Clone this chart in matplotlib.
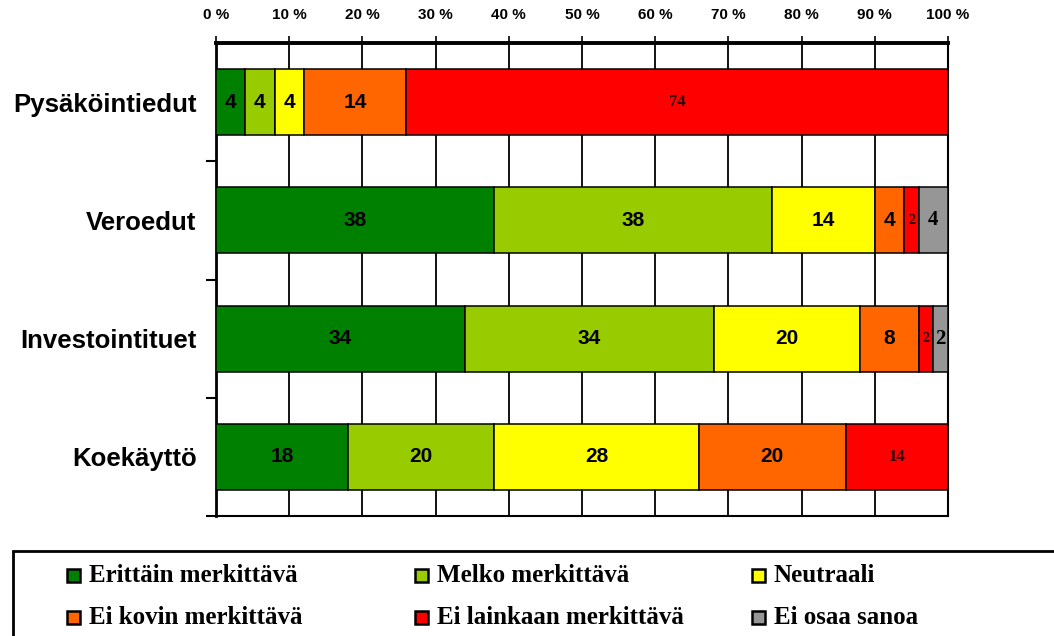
import matplotlib.pyplot as plt
import numpy as np
from matplotlib.patches import Rectangle
from matplotlib.ticker import FixedLocator

categories = ['Pysäköintiedut', 'Veroedut', 'Investointituet', 'Koekäyttö']
series = ['Erittäin merkittävä', 'Melko merkittävä', 'Neutraali',
          'Ei kovin merkittävä', 'Ei lainkaan merkittävä', 'Ei osaa sanoa']
erittain = [4, 38, 34, 18]
melko = [4, 38, 34, 20]
neutraali = [4, 14, 20, 28]
ei_kovin = [14, 4, 8, 20]
ei_lainkaan = [74, 2, 2, 14]
ei_osaa = [0, 4, 2, 0]
values = [erittain, melko, neutraali, ei_kovin, ei_lainkaan, ei_osaa]
colors = ['#008000', '#99CC00', '#FFFF00', '#FF6600', '#FF0000', '#969696']
xticks = [0, 10, 20, 30, 40, 50, 60, 70, 80, 90, 100]

fig = plt.figure(figsize=(10.54, 6.36), dpi=100)
ax = fig.add_axes([216/1054, 1-516/636, 732/1054, 473/636])

y = np.arange(len(categories))
left = np.zeros(len(categories))
for i, (name, vals, col) in enumerate(zip(series, values, colors)):
    vals = np.array(vals, dtype=float)
    bars = ax.barh(y, vals, left=left, height=0.56, color=col,
                   edgecolor='black', linewidth=1.1, zorder=3)
    for b, v in zip(bars, vals):
        if v <= 0:
            continue
        cx = b.get_x() + b.get_width()/2
        cy = b.get_y() + b.get_height()/2
        if i == 4:
            # red segment labels are in a small serif font
            fs = 12 if v > 5 else 10
            ax.text(cx, cy, f'{v:.0f}', ha='center', va='center', fontsize=fs,
                    family='Liberation Serif', fontweight='bold', color='#2a0000', zorder=4)
        elif i == 5:
            ax.text(cx, cy, f'{v:.0f}', ha='center', va='center', fontsize=15,
                    family='Liberation Serif', fontweight='bold', zorder=4)
        else:
            ax.text(cx, cy, f'{v:.0f}', ha='center', va='center', fontsize=15,
                    family='Liberation Sans', fontweight='bold', zorder=4)
    left += vals

ax.set_xlim(0, 100)
ax.set_ylim(3.5, -0.5)
ax.xaxis.tick_top()
ax.set_xticks(xticks)
ax.set_xticklabels([f'{t} %' for t in xticks], family='Liberation Sans',
                   fontweight='bold', fontsize=11)
ax.tick_params(axis='x', direction='out', length=5, width=1.2, pad=10, color='black')
ax.set_yticks(y)
ax.set_yticklabels(categories, family='Liberation Sans', fontweight='bold', fontsize=18.5)
ax.tick_params(axis='y', which='major', length=0, pad=14)
ax.yaxis.set_minor_locator(FixedLocator(np.arange(0.5, 3.6, 1)))
ax.tick_params(axis='y', which='minor', length=7, width=1.5)
ax.grid(axis='x', color='black', linewidth=1.3, zorder=0)
ax.set_axisbelow(True)
ax.spines['top'].set_linewidth(2.8)
ax.spines['left'].set_linewidth(2)
ax.spines['right'].set_linewidth(1.5)
ax.spines['bottom'].set_linewidth(1.5)

# legend box (runs off the figure edge)
fig.patches.append(Rectangle((13/1054, -0.1), 1.1, 1-551/636+0.1, transform=fig.transFigure,
                             fill=False, edgecolor='black', linewidth=2))
colx = [67, 415, 752]
rowy = [575, 617]
for k, (name, col) in enumerate(zip(series, colors)):
    r, c = divmod(k, 3)
    x0 = colx[c]/1054
    y0 = 1 - rowy[r]/636
    fig.patches.append(Rectangle((x0, y0 - 7/636), 13/1054, 13/636, transform=fig.transFigure,
                                 facecolor=col, edgecolor='black', linewidth=1.8))
    fig.text(x0 + 22/1054, y0, name, family='Liberation Serif', fontweight='bold',
             fontsize=18, va='center', ha='left')

fig.savefig('out.png', dpi=100)
